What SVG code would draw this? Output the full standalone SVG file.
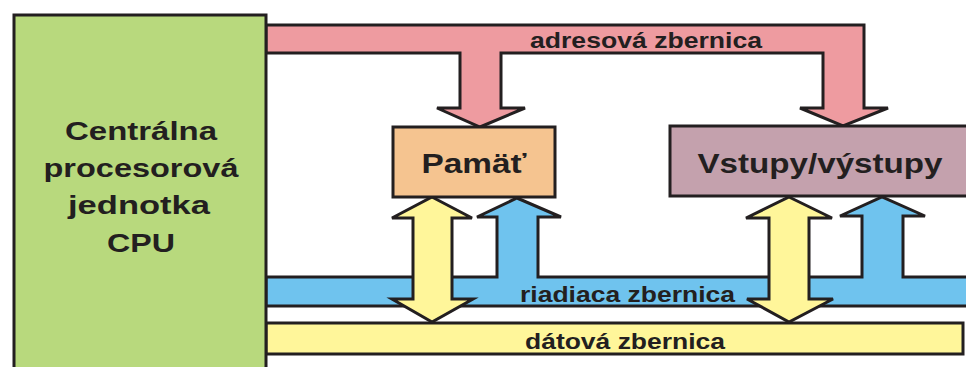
<svg xmlns="http://www.w3.org/2000/svg" width="966" height="367" viewBox="0 0 966 367">
  <style>
    .edge { stroke: #231f20; stroke-width: 3; stroke-linejoin: miter; }
    .addr { fill: #ee9ba0; }
    .ctrl { fill: #6fc3ee; }
    .data { fill: #fff69a; }
    .cpu { fill: #b8d97d; }
    .mem { fill: #f5c490; }
    .io { fill: #c4a1ad; }
    .t { font-family: "Liberation Sans", Arial, sans-serif; font-weight: bold; fill: #231f20; }
    .big { font-size: 26px; text-anchor: middle; }
    .node { font-size: 28px; text-anchor: middle; }
    .bus { font-size: 22px; }
  </style>
  <rect width="966" height="367" fill="#ffffff"/>

  <!-- bus structures -->
  <g id="connectors">
    <!-- address bus with drops to memory and I/O -->
    <path class="edge addr" d="M266,25 H864 V108 H888 L843,126 L800,108 H823 V53 H501 V108 H525 L480,127 L437,108 H460 V53 H266 Z"/>
    <!-- control bus with risers to memory and I/O -->
    <path class="edge ctrl" d="M266,277 H497 V217 H477 L517,198 L561,217 H538 V277 H862 V216 H840 L882,197 L925,216 H903 V277 H975 V306 H266 Z"/>
    <!-- data bus -->
    <path class="edge data" d="M266,323 H963 V354 H266 Z"/>
    <!-- bidirectional data links -->
    <path class="edge data" d="M432,197 L472,218 H452 V299 H473 L432,322 L392,299 H413 V218 H392 Z"/>
    <path class="edge data" d="M789,197 L832,218 H809 V299 H833 L789,322 L747,299 H769 V218 H746 Z"/>
    <text class="t bus" x="530" y="48" textLength="232" lengthAdjust="spacingAndGlyphs">adresová zbernica</text>
    <text class="t bus" x="520" y="302" textLength="215" lengthAdjust="spacingAndGlyphs">riadiaca zbernica</text>
    <text class="t bus" x="525" y="349" textLength="200" lengthAdjust="spacingAndGlyphs">dátová zbernica</text>
  </g>

  <g id="cpu">
    <rect class="edge cpu" x="14" y="15" width="252" height="360"/>
    <text class="t big" x="141" y="140" textLength="152" lengthAdjust="spacingAndGlyphs">Centrálna</text>
    <text class="t big" x="141" y="177" textLength="195" lengthAdjust="spacingAndGlyphs">procesorová</text>
    <text class="t big" x="139" y="214" textLength="142" lengthAdjust="spacingAndGlyphs">jednotka</text>
    <text class="t big" x="141" y="252" textLength="68" lengthAdjust="spacingAndGlyphs">CPU</text>
  </g>

  <g id="memory">
    <rect class="edge mem" x="393" y="127" width="162" height="70"/>
    <text class="t node" x="474" y="173" textLength="105" lengthAdjust="spacingAndGlyphs">Pamäť</text>
  </g>

  <g id="io">
    <rect class="edge io" x="670" y="126" width="305" height="70"/>
    <text class="t node" x="820" y="173" textLength="245" lengthAdjust="spacingAndGlyphs">Vstupy/výstupy</text>
  </g>
</svg>
